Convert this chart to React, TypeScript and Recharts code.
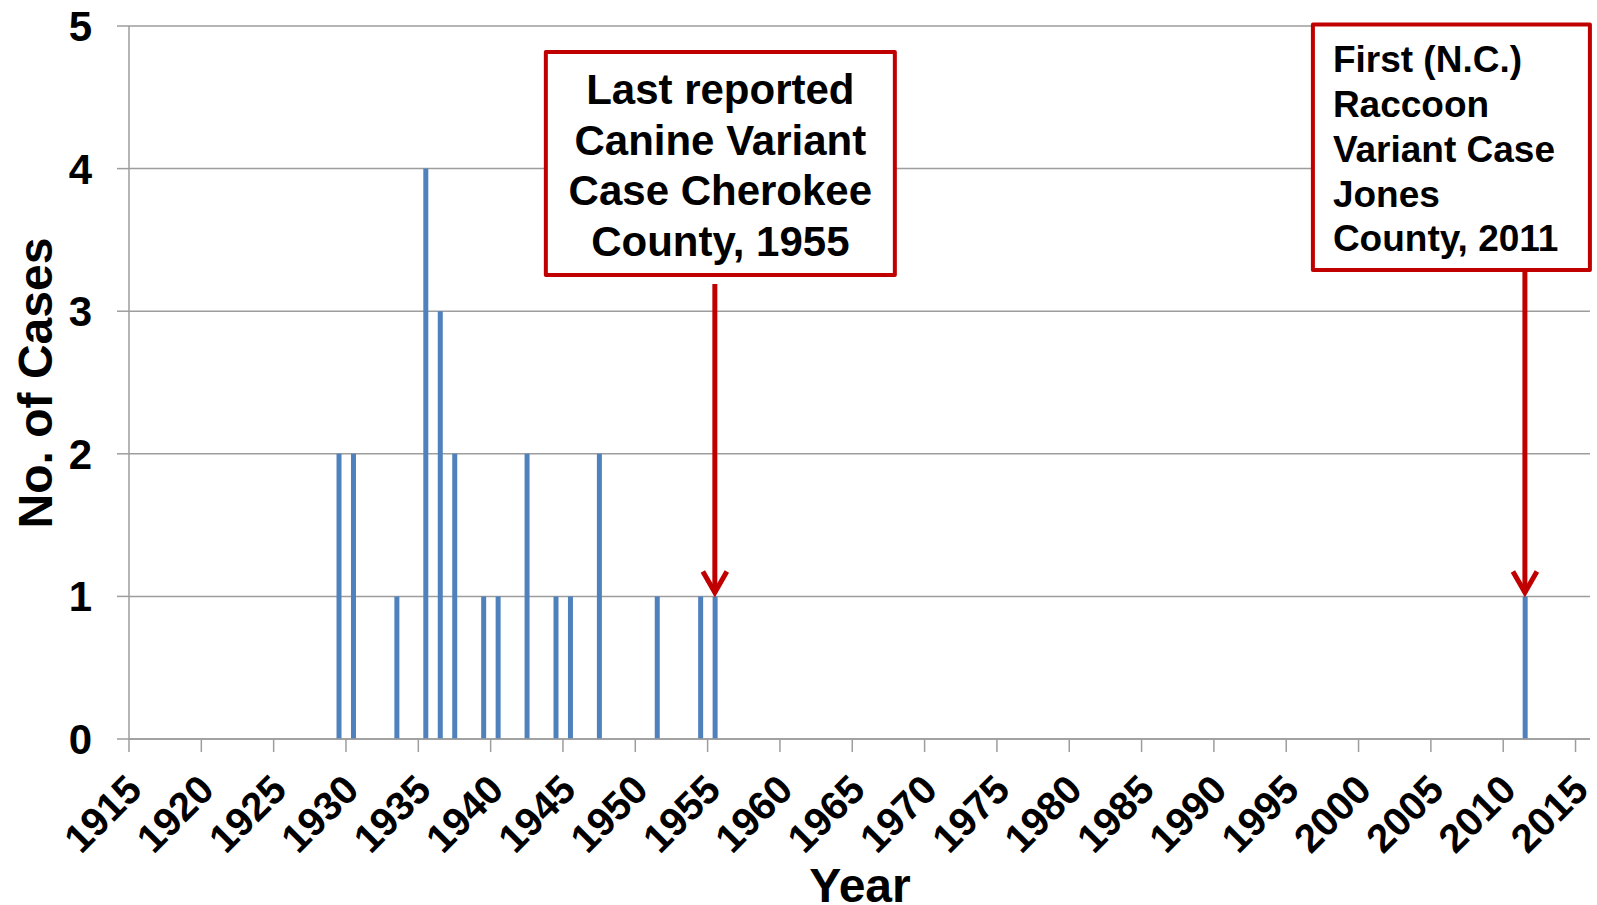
import React from 'react';
import { BarChart, Bar, XAxis, YAxis, CartesianGrid, ReferenceLine, Customized } from 'recharts';

// ---- data ----
const years = [1929, 1930, 1933, 1935, 1936, 1937, 1939, 1940, 1942, 1944, 1945, 1947, 1951, 1954, 1955, 2011];
const cases = [2, 2, 1, 4, 3, 2, 1, 1, 2, 1, 1, 2, 1, 1, 1, 1];
const xTickYears = [1915, 1920, 1925, 1930, 1935, 1940, 1945, 1950, 1955, 1960, 1965, 1970, 1975, 1980, 1985, 1990, 1995, 2000, 2005, 2010, 2015];
const yTicks = [0, 1, 2, 3, 4, 5];
const canineLines = ['Last reported', 'Canine Variant', 'Case Cherokee', 'County, 1955'];
const raccoonLines = ['First (N.C.)', 'Raccoon', 'Variant Case', 'Jones', 'County, 2011'];

const data = years.map((year, i) => ({ year, cases: cases[i] }));
// category boundaries (ticks sit between years)
const xTicks = xTickYears.map((y) => y - 0.5);

const FONT = '"Liberation Sans", Arial, Helvetica, sans-serif';
const GRID = '#9d9d9d';
const RED = '#C00000';
const BAR = '#4F81BD';

const XTick = (props: any) => {
  const { x, y, payload } = props;
  const ax = x + 15;
  const ay = y + 38;
  return (
    <text
      x={ax}
      y={ay}
      transform={`rotate(-45 ${ax} ${ay})`}
      textAnchor="end"
      fontFamily={FONT}
      fontWeight="bold"
      fontSize={40}
      fill="#000"
    >
      {Math.round(payload.value + 0.5)}
    </text>
  );
};

const YTick = (props: any) => {
  const { x, y, payload } = props;
  return (
    <text x={x - 34.5} y={y + 15} textAnchor="middle" fontFamily={FONT} fontWeight="bold" fontSize={42} fill="#000">
      {payload.value}
    </text>
  );
};

type Callout = {
  lines: string[];
  boxDx: number;
  boxTop: number;
  boxWidth: number;
  boxHeight: number;
  fontSize: number;
  align: 'middle' | 'start';
  textDx: number;
  baselines: number[];
};

const makeCallout = (cfg: Callout) => (props: any) => {
  const { x1, y1, x2, y2 } = props;
  const x = x1;
  const top = Math.min(y1, y2);
  const tip = Math.max(y1, y2);
  const vertex = tip - 4;
  const bx = x + cfg.boxDx;
  const tx = cfg.align === 'middle' ? bx + cfg.boxWidth / 2 : bx + cfg.textDx;
  return (
    <g>
      <line x1={x} y1={top} x2={x} y2={vertex} stroke={RED} strokeWidth={5} />
      <polyline
        points={`${x - 12},${vertex - 21} ${x},${vertex} ${x + 12},${vertex - 21}`}
        fill="none"
        stroke={RED}
        strokeWidth={5}
        strokeLinejoin="miter"
      />
      <rect
        x={bx + 2}
        y={cfg.boxTop + 2}
        width={cfg.boxWidth - 4}
        height={cfg.boxHeight - 4}
        fill="#fff"
        stroke={RED}
        strokeWidth={4}
        strokeLinejoin="round"
      />
      <text fontFamily={FONT} fontWeight="bold" fontSize={cfg.fontSize} fill="#000" textAnchor={cfg.align}>
        {cfg.lines.map((l, i) => (
          <tspan key={i} x={tx} y={cfg.baselines[i]}>
            {l}
          </tspan>
        ))}
      </text>
    </g>
  );
};

const canineCallout = makeCallout({
  lines: canineLines,
  boxDx: -171,
  boxTop: 50,
  boxWidth: 353,
  boxHeight: 227,
  fontSize: 42,
  align: 'middle',
  textDx: 0,
  baselines: [104, 154.5, 205, 255.5],
});

const raccoonCallout = makeCallout({
  lines: raccoonLines,
  boxDx: -214,
  boxTop: 22.5,
  boxWidth: 281,
  boxHeight: 249.5,
  fontSize: 37,
  align: 'start',
  textDx: 22,
  baselines: [71.5, 116.5, 161.5, 206.5, 251],
});

const Titles = () => (
  <g>
    <text
      x={52}
      y={383}
      transform="rotate(-90 52 383)"
      textAnchor="middle"
      fontFamily={FONT}
      fontWeight="bold"
      fontSize={48}
      fill="#000"
    >
      No. of Cases
    </text>
    <text x={860} y={902} textAnchor="middle" fontFamily={FONT} fontWeight="bold" fontSize={48} fill="#000">
      Year
    </text>
  </g>
);

export default function App() {
  return (
    <div style={{ position: 'absolute', left: 0, top: 0, width: 1597, height: 905, background: '#fff' }}>
      <BarChart width={1597} height={905} data={data} margin={{ top: 26, right: 7, bottom: 0, left: 0 }}>
        <CartesianGrid vertical={false} stroke={GRID} strokeWidth={1.5} />
        <XAxis
          dataKey="year"
          type="number"
          domain={[1914.5, 2015.5]}
          ticks={xTicks}
          interval={0}
          height={166}
          tickSize={13}
          tickMargin={2}
          axisLine={{ stroke: GRID, strokeWidth: 1.5 }}
          tickLine={{ stroke: GRID, strokeWidth: 1.5 }}
          tick={<XTick />}
          allowDataOverflow
        />
        <YAxis
          type="number"
          domain={[0, 5]}
          ticks={yTicks}
          interval={0}
          width={129}
          tickSize={12}
          tickMargin={2}
          axisLine={{ stroke: GRID, strokeWidth: 1.5 }}
          tickLine={{ stroke: GRID, strokeWidth: 1.5 }}
          tick={<YTick />}
        />
        <Bar dataKey="cases" fill={BAR} barSize={5} isAnimationActive={false} />
        <ReferenceLine
          segment={[
            { x: 1955, y: 3.19 },
            { x: 1955, y: 1 },
          ]}
          shape={canineCallout}
        />
        <ReferenceLine
          segment={[
            { x: 2011, y: 3.28 },
            { x: 2011, y: 1 },
          ]}
          shape={raccoonCallout}
        />
        <Customized component={<Titles />} />
      </BarChart>
    </div>
  );
}
